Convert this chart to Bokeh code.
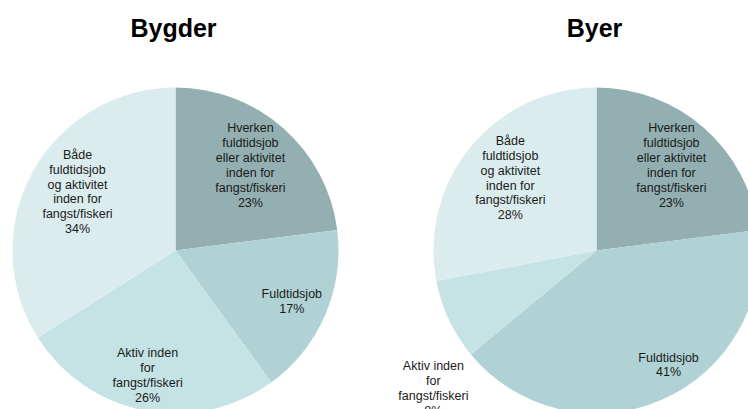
import math
from bokeh.plotting import figure
from bokeh.models import Range1d, ColumnDataSource
from bokeh.core.properties import value
from bokeh.embed import file_html
from bokeh.resources import INLINE

# ---- data ----
categories = [
    "Hverken\nfuldtidsjob\neller aktivitet\ninden for\nfangst/fiskeri",
    "Fuldtidsjob",
    "Aktiv inden\nfor\nfangst/fiskeri",
    "Både\nfuldtidsjob\nog aktivitet\ninden for\nfangst/fiskeri",
]
bygder_pct = [23, 17, 26, 34]
byer_pct = [23, 41, 8, 28]
titles = ["Bygder", "Byer"]
colors = ["#93AFB1", "#B0D2D4", "#C5E3E5", "#DAECEE"]

# ---- layout (page pixels; data y = 409 - screen y) ----
W, H = 748, 409
p = figure(width=W, height=H, output_backend="svg", toolbar_location=None,
           x_range=Range1d(0, W), y_range=Range1d(0, H),
           min_border=0)
p.axis.visible = False
p.grid.visible = False
p.outline_line_color = None
p.background_fill_color = "white"
p.border_fill_color = "white"

R = 163
centers = [(175, 409 - 250), (596, 409 - 250)]
# label placement: radial fraction and angle nudge (degrees) per slice
label_f = [[0.695, 0.78, 0.785, 0.70], [0.695, 0.83, 1.31, 0.69]]
label_dt = [[0, -0.4, -1.8, -2.0], [0, 8.8, 15.0, -0.4]]

for k, (vals, (cx, cy), title) in enumerate(zip([bygder_pct, byer_pct], centers, titles)):
    total = float(sum(vals))
    starts, ends, lx, ly, txt = [], [], [], [], []
    cum = 0.0
    for i, v in enumerate(vals):
        a0 = math.pi / 2 - 2 * math.pi * cum / total
        cum += v
        a1 = math.pi / 2 - 2 * math.pi * cum / total
        starts.append(a0)
        ends.append(a1)
        mid = (a0 + a1) / 2 + math.radians(label_dt[k][i])
        lx.append(cx + R * label_f[k][i] * math.cos(mid))
        ly.append(cy + R * label_f[k][i] * math.sin(mid))
        txt.append(f"{categories[i]}\n{v}%")
    src = ColumnDataSource(dict(x=[cx] * 4, y=[cy] * 4, s=starts, e=ends,
                                c=colors, lx=lx, ly=ly, t=txt))
    p.wedge(x="x", y="y", radius=R, start_angle="s", end_angle="e",
            direction="clock", fill_color="c", line_color=None, source=src)
    p.text(x="lx", y="ly", text="t", source=src, text_align="center",
           text_baseline="middle", text_font=value("Liberation Sans"),
           text_font_size="12.5px", text_color="#1a1a1a", text_line_height=1.06)
    p.text(x=[cx - 2], y=[409 - 27], text=[title], text_align="center",
           text_baseline="middle", text_font=value("Liberation Sans"),
           text_font_size="25px", text_font_style="bold", text_color="black")

open("out.html", "w").write(file_html(p, INLINE))
